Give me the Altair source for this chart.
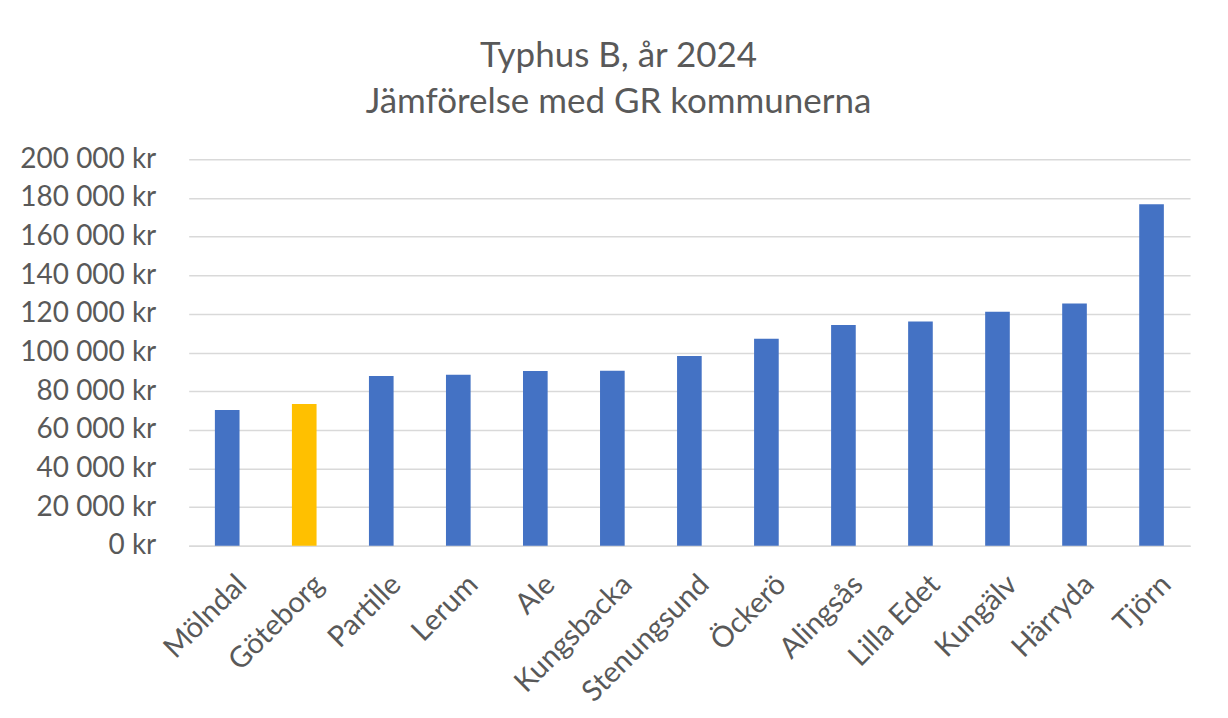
import altair as alt
import pandas as pd

kommuner = ["Mölndal", "Göteborg", "Partille", "Lerum", "Ale", "Kungsbacka",
            "Stenungsund", "Öckerö", "Alingsås", "Lilla Edet", "Kungälv",
            "Härryda", "Tjörn"]
kostnad = [70300, 73400, 87900, 88500, 90400, 90500, 98200, 107100, 114200,
           116100, 121100, 125400, 176700]
markerad = ["Göteborg"]

df = pd.DataFrame({"kommun": kommuner, "kostnad": kostnad})
df["grupp"] = ["Göteborg" if k in markerad else "Övriga" for k in kommuner]

FONT = "Lato"
TEXT = "#595959"

chart = alt.Chart(df).mark_bar().encode(
    x=alt.X("kommun:N", sort=kommuner, title=None,
            scale=alt.Scale(paddingInner=0.68, paddingOuter=0.34),
            axis=alt.Axis(labelAngle=-45, labelAlign="right", labelBaseline="top",
                          labelPadding=24, labelOffset=5, ticks=False,
                          domainColor="#d9d9d9", domainWidth=1.5,
                          labelFontSize=29, labelFont=FONT,
                          labelColor=TEXT, grid=False)),
    y=alt.Y("kostnad:Q", title=None,
            scale=alt.Scale(domain=[0, 200000], nice=False),
            axis=alt.Axis(values=list(range(0, 200001, 20000)), ticks=False,
                          domain=False, gridColor="#d9d9d9", gridWidth=1.5,
                          labelFontSize=28, labelFont=FONT, labelColor=TEXT,
                          labelPadding=33,
                          labelExpr="replace(format(datum.value, ','), regexp(',', 'g'), ' ') + ' kr'")),
    color=alt.Color("grupp:N", legend=None,
                    scale=alt.Scale(domain=["Göteborg", "Övriga"],
                                    range=["#FFC000", "#4472C4"])),
).properties(
    width=1003,
    height=387,
    autosize=alt.AutoSizeParams(type="none"),
    padding={"left": 181, "top": 151, "right": 30, "bottom": 170},
    title=alt.TitleParams(
        text=["Typhus B, år 2024", "Jämförelse med GR kommunerna"],
        font=FONT, fontSize=35, fontWeight="normal", color=TEXT,
        anchor="middle", frame="group", dx=-71, dy=50, baseline="alphabetic",
        lineHeight=46, offset=47),
).configure_view(stroke=None)

chart.save("out.html", embed_options={"renderer": "svg", "actions": False})
